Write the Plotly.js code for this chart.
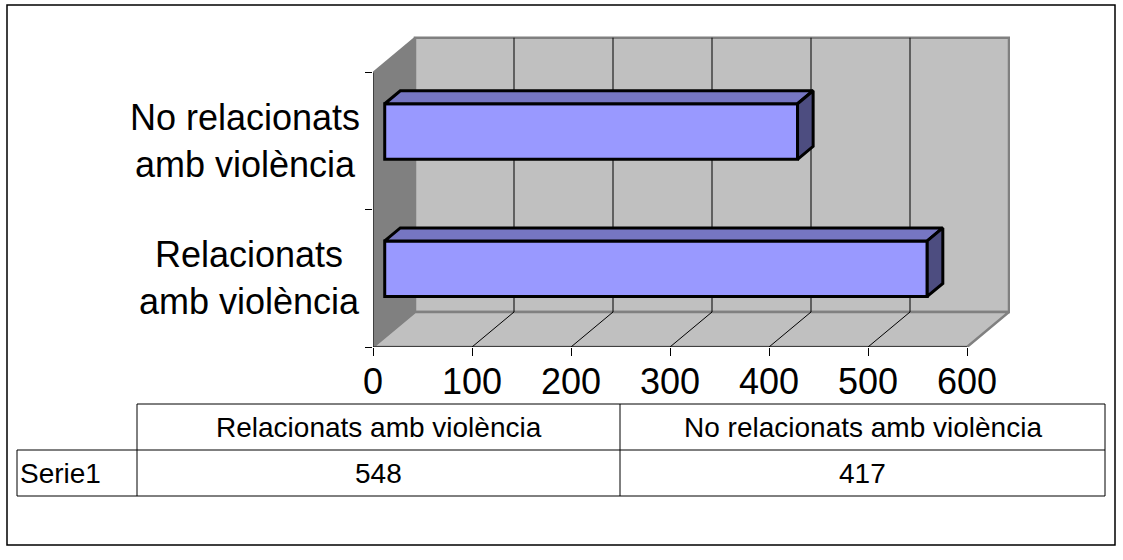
<!DOCTYPE html>
<html>
<head>
<meta charset="utf-8">
<script src="https://cdn.plot.ly/plotly-3.0.1.min.js"></script>
<style>
  html, body { margin: 0; padding: 0; background: #ffffff; }
  #chart { width: 1123px; height: 560px; }
</style>
</head>
<body>
<div id="chart"></div>
<script>
// ---- data ----
const categories = ["Relacionats amb violència", "No relacionats amb violència"];
const categoryLabels = ["Relacionats<br>amb violència", "No relacionats<br>amb violència"];
const seriesName = "Serie1";
const values = [548, 417];
const xTickValues = [0, 100, 200, 300, 400, 500, 600];
const xTickLabels = ["0", "100", "200", "300", "400", "500", "600"];

// ---- geometry (pixel layout of the plot area) ----
const W = 1123, H = 560;
const plotL = 373, plotR = 1010, plotT = 36, plotB = 347;
const plotW = plotR - plotL, plotH = plotB - plotT;
const axisMax = 600;
const frontPxPerUnit = 594 / axisMax;
const xRangeMax = plotW / frontPxPerUnit;
const yPxPerCat = 137.15;
const yRangeMax = plotH / yPxPerCat;
const DX = 42 / frontPxPerUnit;
const DY = 35 / yPxPerCat;
const f0 = 0.279, f1 = 0.65;
const barW = 0.405;

const FONT = "Liberation Sans, Arial, Helvetica, sans-serif";
const px2paperX = X => (X - plotL) / plotW;
const px2paperY = Y => (plotB - Y) / plotH;

const shapes = [];
shapes.push({type: "path", layer: "below", xref: "x", yref: "y",
  path: `M 0,0 L 0,2 L ${DX},${2 + DY} L ${DX},${DY} Z`,
  fillcolor: "#808080", line: {width: 0}});
shapes.push({type: "path", layer: "below", xref: "x", yref: "y",
  path: `M ${DX},${DY} L ${DX},${2 + DY} L ${axisMax + DX},${2 + DY} L ${axisMax + DX},${DY} Z`,
  fillcolor: "#c0c0c0", line: {color: "#808080", width: 2.5}});
shapes.push({type: "path", layer: "below", xref: "x", yref: "y",
  path: `M 0,0 L ${axisMax},0 L ${axisMax + DX},${DY} L ${DX},${DY} Z`,
  fillcolor: "#c0c0c0", line: {color: "#808080", width: 2.5}});
shapes.push({type: "line", layer: "below", xref: "x", yref: "y",
  x0: 0, y0: 2, x1: DX, y1: 2 + DY, line: {color: "#808080", width: 2}});
xTickValues.forEach(v => {
  if (v > 0 && v < axisMax) {
    shapes.push({type: "line", layer: "below", xref: "x", yref: "y",
      x0: v + DX, y0: DY, x1: v + DX, y1: 2 + DY, line: {color: "#000000", width: 1}});
    shapes.push({type: "line", layer: "below", xref: "x", yref: "y",
      x0: v, y0: 0, x1: v + DX, y1: DY, line: {color: "#000000", width: 1}});
  }
});
shapes.push({type: "line", layer: "above", xref: "x", yref: "y",
  x0: 0, y0: 0, x1: axisMax, y1: 0, line: {color: "#000000", width: 1}});
shapes.push({type: "line", layer: "above", xref: "x", yref: "y",
  x0: 0, y0: 0, x1: 0, y1: 2, line: {color: "#000000", width: 1}});

// ---- data table ----
const tblTop = 404, tblMid = 450, tblBot = 496;
const tblX0 = 17, tblX1 = 137, tblX2 = 620, tblX3 = 1105;
const tline = (x0, y0, x1, y1) => shapes.push({type: "line", xref: "paper", yref: "paper",
  x0: px2paperX(x0), y0: px2paperY(y0), x1: px2paperX(x1), y1: px2paperY(y1),
  line: {color: "#000000", width: 1}});
tline(tblX1, tblTop, tblX3, tblTop);
tline(tblX0, tblMid, tblX3, tblMid);
tline(tblX0, tblBot, tblX3, tblBot);
tline(tblX0, tblMid, tblX0, tblBot);
tline(tblX1, tblTop, tblX1, tblBot);
tline(tblX2, tblTop, tblX2, tblBot);
tline(tblX3, tblTop, tblX3, tblBot);
shapes.push({type: "rect", xref: "paper", yref: "paper",
  x0: px2paperX(7), y0: px2paperY(5), x1: px2paperX(1115), y1: px2paperY(545),
  line: {color: "#000000", width: 1.5}, fillcolor: "rgba(0,0,0,0)"});

const annotations = [];
categoryLabels.forEach((lab, i) => {
  annotations.push({xref: "paper", yref: "y", x: px2paperX(362), y: i + 0.5,
    xanchor: "right", yanchor: "middle", align: "center", showarrow: false,
    text: lab, font: {family: FONT, size: 36, color: "#000000"}});
});
const tblFont = {family: FONT, size: 28, color: "#000000"};
const colCenters = [(tblX1 + tblX2) / 2, (tblX2 + tblX3) / 2];
categories.forEach((c, i) => {
  annotations.push({xref: "paper", yref: "paper", x: px2paperX(colCenters[i]), y: px2paperY((tblTop + tblMid) / 2),
    xanchor: "center", yanchor: "middle", showarrow: false, text: c, font: tblFont});
  annotations.push({xref: "paper", yref: "paper", x: px2paperX(colCenters[i]), y: px2paperY((tblMid + tblBot) / 2),
    xanchor: "center", yanchor: "middle", showarrow: false, text: String(values[i]), font: tblFont});
});
annotations.push({xref: "paper", yref: "paper", x: px2paperX(tblX0 + 1), y: px2paperY((tblMid + tblBot) / 2),
  xanchor: "left", yanchor: "middle", showarrow: false, text: seriesName, font: tblFont});

// ---- traces ----
const yFront = values.map((v, i) => i + 0.5 + f0 * DY);
const baseX = f0 * DX;
const ddx = (f1 - f0) * DX, ddy = (f1 - f0) * DY;

const traces = [];
traces.push({type: "bar", orientation: "h", name: seriesName,
  x: values, y: yFront, base: values.map(() => baseX), width: barW,
  marker: {color: "#9999ff", line: {color: "#000000", width: 3}},
  hoverinfo: "skip", showlegend: false});

values.forEach((v, i) => {
  const yb = yFront[i] - barW / 2, yt = yFront[i] + barW / 2;
  const x0 = baseX, x1 = baseX + v;
  traces.push({type: "scatter", mode: "lines", fill: "toself", fillcolor: "#7676c2",
    x: [x0, x0 + ddx, x1 + ddx, x1, x0], y: [yt, yt + ddy, yt + ddy, yt, yt],
    line: {color: "#000000", width: 3}, hoverinfo: "skip", showlegend: false});
  traces.push({type: "scatter", mode: "lines", fill: "toself", fillcolor: "#4d4d80",
    x: [x1, x1, x1 + ddx, x1 + ddx, x1], y: [yb, yt, yt + ddy, yb + ddy, yb],
    line: {color: "#000000", width: 3}, hoverinfo: "skip", showlegend: false});
});

const layout = {
  width: W, height: H,
  margin: {l: plotL, r: W - plotR, t: plotT, b: H - plotB, pad: 0},
  paper_bgcolor: "#ffffff", plot_bgcolor: "rgba(0,0,0,0)",
  showlegend: false,
  xaxis: {range: [0, xRangeMax], showgrid: false, zeroline: false, showline: false,
    tickmode: "array", tickvals: xTickValues, ticktext: xTickLabels,
    ticks: "outside", ticklen: 8, tickwidth: 1, tickcolor: "#000000",
    ticklabelstandoff: -5,
    tickfont: {family: FONT, size: 36, color: "#000000"}, fixedrange: true},
  yaxis: {range: [0, yRangeMax], showgrid: false, zeroline: false, showline: false,
    tickmode: "array", tickvals: [0, 1, 2], showticklabels: false,
    ticks: "outside", ticklen: 7, tickwidth: 1, tickcolor: "#000000", fixedrange: true},
  shapes: shapes,
  annotations: annotations
};

Plotly.newPlot("chart", traces, layout, {displayModeBar: false, staticPlot: true});
</script>
</body>
</html>
